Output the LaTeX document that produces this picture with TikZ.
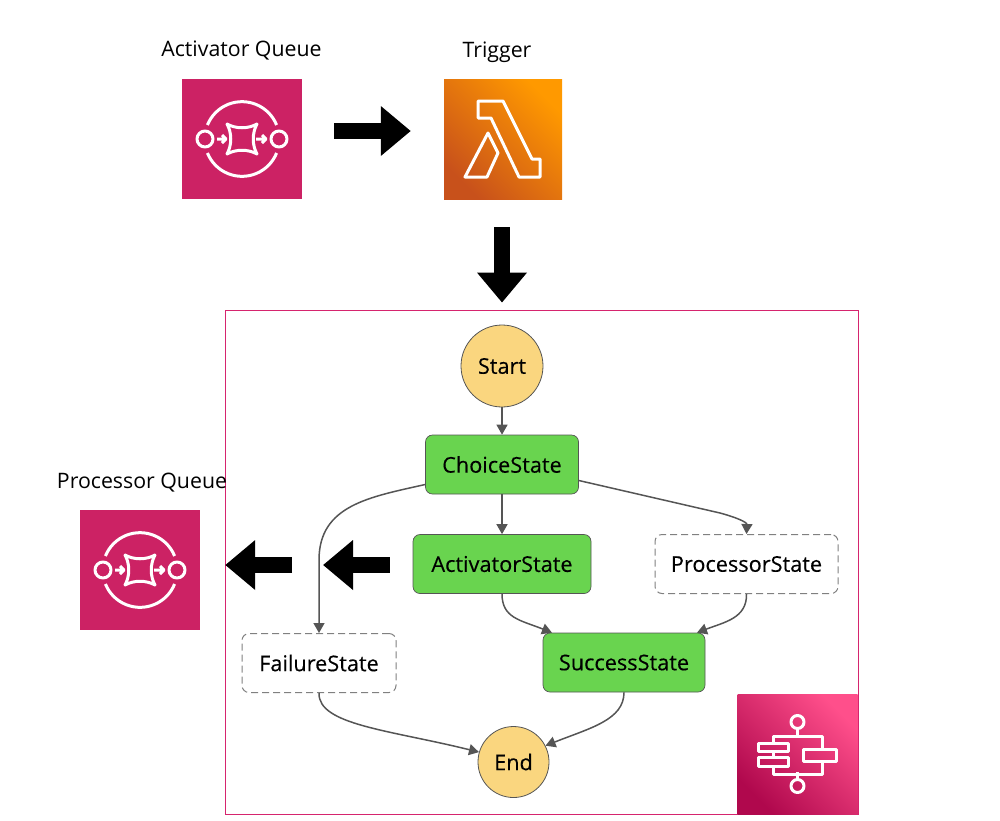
\documentclass[tikz,border=0pt]{standalone}
\usepackage{fontspec}
\setmainfont{Open Sans}
\newfontfamily\statefont[FakeBold=0.25]{Open Sans}
\usetikzlibrary{arrows.meta,shadings}
\definecolor{queuepink}{HTML}{CC2264}
\definecolor{framepink}{HTML}{D6246E}
\definecolor{stategreen}{HTML}{69D44F}
\definecolor{statebrown}{HTML}{FAD67F}
\definecolor{edgegray}{HTML}{555555}
\definecolor{stepdark}{HTML}{B0084D}
\definecolor{steplight}{HTML}{FF4F8B}
\definecolor{lambdadark}{HTML}{C8511B}
\definecolor{lambdalight}{HTML}{FF9900}
\tikzset{
  bigarrow/.style={line width=16pt,black,-{Triangle[length=30pt,width=48pt]}},
  flow/.style={edgegray,line width=1.5pt,-{Triangle[length=10pt,width=11pt]}},
  state/.style={rectangle,rounded corners=7pt,minimum height=59pt,inner sep=0pt,font=\statefont\fontsize{21.7}{24}\selectfont},
  greenstate/.style={state,draw=edgegray,line width=0.7pt,fill=stategreen},
  dashstate/.style={state,draw=gray,line width=1pt,dash pattern=on 7pt off 4pt,fill=white},
  circlestate/.style={circle,draw=edgegray,line width=0.8pt,fill=statebrown,inner sep=0pt,font=\statefont\fontsize{21.7}{24}\selectfont},
  caption/.style={inner sep=0pt,font=\fontsize{21.3}{24}\selectfont},
  iconbox/.style={rectangle,draw=none,inner sep=0pt,minimum size=120pt},
  glyph/.style={white,line width=3pt,line join=round},
  queueicon/.pic={
    \draw[glyph] (-37,0) circle (8);
    \draw[glyph] (37,0) circle (8);
    \draw[glyph] (34.6,-14) arc[start angle=-22,end angle=-158,radius=37.3];
    \draw[glyph] (34.6,14) arc[start angle=22,end angle=158,radius=37.3];
    \draw[glyph] (-15,-15) .. controls (-6,-10) and (6,-10) .. (15,-15)
      .. controls (10,-6) and (10,6) .. (15,15)
      .. controls (6,10) and (-6,10) .. (-15,15)
      .. controls (-10,6) and (-10,-6) .. cycle;
    \draw[glyph] (-25,0) -- (-16,0) (-20,-4) -- (-16,0) -- (-20,4);
    \draw[glyph] (14,0) -- (24,0) (20,-4) -- (24,0) -- (20,4);
  },
  lambdaicon/.pic={
    \draw[glyph] (-25,-38) -- (0,-38) -- (29,20) -- (37,20) -- (37,38) -- (16,38)
      -- (-12,-21) -- (-25,-21) -- cycle;
    \draw[glyph] (-15,-6) -- (-5,14) -- (-16,38) -- (-38,38) -- cycle;
  },
  stepicon/.pic={
    \draw[glyph] (0,-32) circle (6.5);
    \draw[glyph] (0,32) circle (6.5);
    \draw[glyph] (0,-25.5) -- (0,-18) (0,18) -- (0,25.5);
    \draw[glyph] (-24,-11) -- (-24,-18) -- (25,-18) -- (25,-5);
    \draw[glyph] (25,7) -- (25,20) -- (-24,20) -- (-24,12);
    \draw[glyph] (-24,-3) -- (-24,3);
    \draw[glyph] (-39,-11) rectangle (-9,-3);
    \draw[glyph] (-39,3) rectangle (-9,12);
    \draw[glyph] (6,-5) rectangle (39,7);
  },
}
\begin{document}
\begin{tikzpicture}[x=1pt,y=-1pt]
\useasboundingbox (0,0) rectangle (1000,820);
% state machine frame
\node[rectangle,draw=framepink,line width=0.8pt,minimum width=633pt,minimum height=504pt,inner sep=0pt] (machine) at (541.5,562) {};
\node[iconbox,left color=steplight,right color=stepdark,shading angle=-45] (stepfn) at (797.5,754) {};
\pic at (stepfn) {stepicon};
% icons on top
\node[iconbox,fill=queuepink] (activator) at (242,139) {};
\pic at (activator) {queueicon};
\node[iconbox,minimum width=118pt,left color=lambdalight,right color=lambdadark,shading angle=-45] (trigger) at (503,139) {};
\pic at (trigger) {lambdaicon};
\node[iconbox,fill=queuepink] (processor) at (140,570) {};
\pic at (processor) {queueicon};
\node[caption] (activatorlabel) at (241.5,50) {Activator Queue};
\node[caption] (triggerlabel) at (497,52) {Trigger};
\node[caption] (processorlabel) at (142,483) {Processor Queue};
% states
\node[circlestate,minimum size=82pt] (startstate) at (502,366) {Start};
\node[greenstate,minimum width=153pt] (choice) at (502,464.5) {ChoiceState};
\node[greenstate,minimum width=178pt] (activatorstate) at (502,564) {ActivatorState};
\node[dashstate,minimum width=183pt] (processorstate) at (746.5,564) {ProcessorState};
\node[dashstate,minimum width=154pt] (failure) at (319,663) {FailureState};
\node[greenstate,minimum width=162pt] (success) at (624,662.5) {SuccessState};
\node[circlestate,minimum size=71pt] (endstate) at (513.5,762) {End};
% flow
\draw[flow] (startstate) -- (choice);
\draw[flow] (choice) -- (activatorstate);
\draw[flow] ([yshift=-16pt]choice.east) -- (720,513) .. controls (735,517) and (747,522) .. (processorstate.north);
\draw[flow] ([yshift=-20pt]choice.west) .. controls (370,497) and (319,505) .. (319,560) -- (failure.north);
\draw[flow] (activatorstate.south) .. controls (502,618) and (520,620) .. ([xshift=-72pt]success.north);
\draw[flow] (processorstate.south) .. controls (747,618) and (725,622) .. ([xshift=73pt]success.north);
\draw[flow] (failure.south) .. controls (318,725) and (390,730) .. (endstate.164);
\draw[flow] (success.south) .. controls (624,720) and (590,728) .. (endstate.27);
% big arrows
\coordinate (failleft) at (323,565);
\coordinate (queuetail) at (292,565);
\draw[bigarrow,shorten <=32pt,shorten >=33pt] ([yshift=8pt]activator.east) -- ([yshift=8pt]trigger.west);
\draw[bigarrow,shorten <=28pt,shorten >=22pt] (trigger.south -| startstate.north) -- (startstate.north);
\draw[bigarrow,shorten <=23pt] ([yshift=-1pt]activatorstate.west) -- (failleft);
\draw[bigarrow,shorten >=25pt] (queuetail) -- (processor.east |- queuetail);
\end{tikzpicture}
\end{document}
